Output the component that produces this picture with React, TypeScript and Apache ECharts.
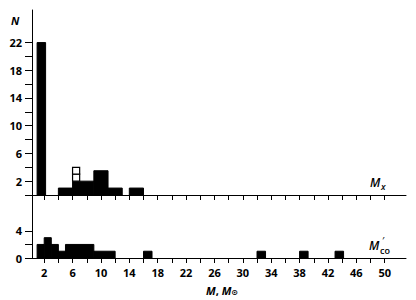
import React, { useEffect, useRef } from "react";
import * as echarts from "echarts";

// Top panel (M_x): bins [from, to, N]
const xBins: number[][] = [
  [1, 2.2, 22],
  [4, 6, 1],
  [6, 9, 2],
  [9, 11, 3.5],
  [11, 13, 1],
  [14, 16, 1],
];
// Open (uncertain) boxes in top panel: [from, to, low, high]
const xOpenBoxes: number[][] = [
  [6, 7, 2, 3],
  [6, 7, 3, 4],
];
// Bottom panel (M'co): bins [from, to, N]
const coBins: number[][] = [
  [1, 2, 2],
  [2, 3, 3],
  [3, 4, 2],
  [4, 5, 1],
  [5, 9, 2],
  [9, 12, 1],
  [16, 17.2, 1],
  [32, 33.2, 1],
  [38, 39.2, 1],
  [43, 44.2, 1],
];
const xTicks = [2, 4, 6, 8, 10, 12, 14, 16, 18, 20, 22, 24, 26, 28, 30, 32, 34, 36, 38, 40, 42, 44, 46, 48, 50];
const xLabels = [2, 6, 10, 14, 18, 22, 26, 30, 34, 38, 42, 46, 50];
const topYTicks = [0, 2, 4, 6, 8, 10, 12, 14, 16, 18, 20, 22];
const topYLabels = [2, 6, 10, 14, 18, 22];
const botYTicks = [0, 2, 4];
const botYLabels = [0, 4];

const FONT = "'Open Sans', 'DejaVu Sans', sans-serif";

export default function App() {
  const ref = useRef<HTMLDivElement>(null);
  useEffect(() => {
    if (!ref.current) return;
    const chart = echarts.init(ref.current, undefined, { renderer: "svg" });

    const axisLine = { show: true, onZero: false, lineStyle: { color: "#000", width: 1 } };
    const labelStyle = { color: "#000", fontFamily: FONT, fontWeight: 700 as any, fontSize: 11 };

    const barRender = (params: any, api: any) => {
      const p0 = api.coord([api.value(0), api.value(2)]);
      const p1 = api.coord([api.value(1), 0]);
      return {
        type: "rect",
        shape: { x: p0[0], y: p0[1], width: p1[0] - p0[0], height: p1[1] - p0[1] },
        style: { fill: "#000", stroke: "#000", lineWidth: 1 },
      };
    };
    const boxRender = (params: any, api: any) => {
      const p0 = api.coord([api.value(0), api.value(3)]);
      const p1 = api.coord([api.value(1), api.value(2)]);
      return {
        type: "rect",
        shape: { x: p0[0], y: p0[1], width: p1[0] - p0[0], height: p1[1] - p0[1] },
        style: { fill: "#fff", stroke: "#000", lineWidth: 1.2 },
      };
    };

    const xAxisBase = (gridIndex: number, showLabels: boolean) => ({
      type: "value",
      gridIndex,
      min: 0,
      max: 53,
      axisLine,
      splitLine: { show: false },
      axisTick: { show: true, customValues: xTicks, length: 5, inside: false, lineStyle: { color: "#000" } },
      axisLabel: showLabels
        ? { show: true, customValues: xLabels, margin: 9, ...labelStyle }
        : { show: false },
    });

    const yAxisBase = (gridIndex: number, max: number, ticks: number[], labels: number[]) => ({
      type: "value",
      gridIndex,
      min: 0,
      max,
      offset: -2,
      axisLine,
      splitLine: { show: false },
      axisTick: { show: true, customValues: ticks, length: 7, lineStyle: { color: "#000" } },
      axisLabel: { show: true, customValues: labels, margin: 10, ...labelStyle },
    });

    chart.setOption({
      animation: false,
      backgroundColor: "#fff",
      grid: [
        { left: 30, width: 376, top: 10, height: 185 },
        { left: 30, width: 376, top: 195, height: 63 },
      ],
      xAxis: [xAxisBase(0, false), xAxisBase(1, true)],
      yAxis: [yAxisBase(0, 26.7, topYTicks, topYLabels), yAxisBase(1, 9.3, botYTicks, botYLabels)],
      series: [
        { type: "custom", xAxisIndex: 0, yAxisIndex: 0, renderItem: barRender, data: xBins, encode: { x: [0, 1], y: 2 } },
        { type: "custom", xAxisIndex: 0, yAxisIndex: 0, renderItem: boxRender, data: xOpenBoxes, encode: { x: [0, 1], y: [2, 3] } },
        { type: "custom", xAxisIndex: 1, yAxisIndex: 1, renderItem: barRender, data: coBins, encode: { x: [0, 1], y: 2 } },
      ],
      graphic: [
        {
          type: "text", left: 11, top: 15,
          style: { text: "N", fill: "#000", font: `italic 700 11px ${FONT}` },
        },
        {
          type: "text", x: 370, y: 176,
          style: { text: "M", fill: "#000", font: `italic 600 12px ${FONT}` },
        },
        {
          type: "text", x: 381, y: 182,
          style: { text: "x", fill: "#000", font: `italic 600 9px ${FONT}` },
        },
        {
          type: "text", x: 369, y: 239,
          style: { text: "M", fill: "#000", font: `italic 600 12px ${FONT}` },
        },
        {
          type: "text", x: 382, y: 235,
          style: { text: "′", fill: "#000", font: `italic 600 8px ${FONT}` },
        },
        {
          type: "text", x: 380, y: 246,
          style: { text: "co", fill: "#000", font: `600 9px ${FONT}` },
        },
        {
          type: "text", x: 222, y: 290,
          style: {
            text: "{i|M}{n|, }{i|M}{s|⊙}",
            align: "center",
            verticalAlign: "middle",
            rich: {
              i: { fill: "#000", font: `italic 700 11px ${FONT}` },
              n: { fill: "#000", font: `700 11px ${FONT}` },
              s: { fill: "#000", font: `700 8px 'DejaVu Sans', sans-serif`, padding: [5, 0, 0, 0] },
            },
          },
        },
      ],
    });
    return () => chart.dispose();
  }, []);
  return <div ref={ref} style={{ width: 416, height: 300, position: "absolute", left: 0, top: 0 }} />;
}
